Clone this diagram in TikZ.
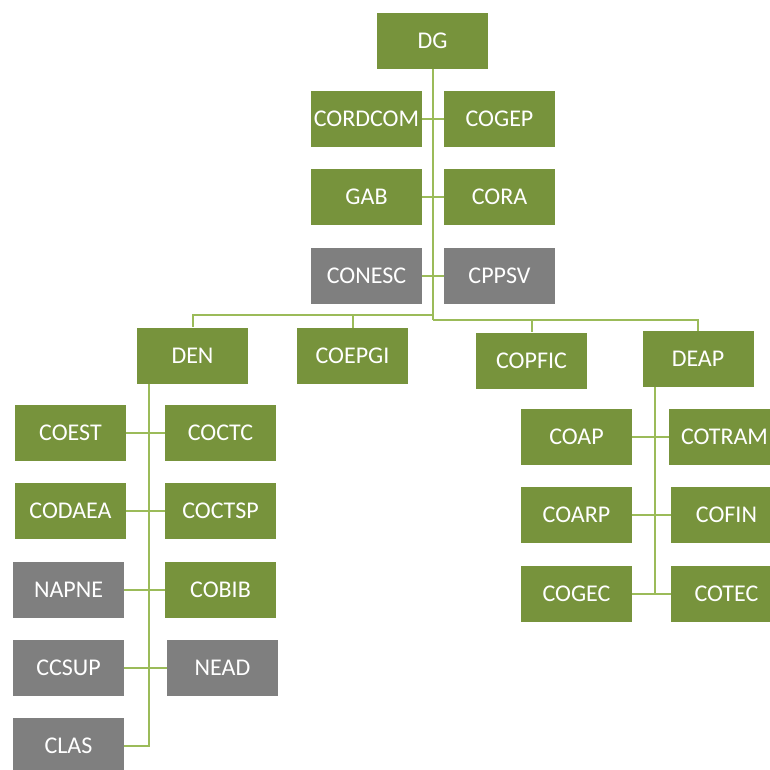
\documentclass[tikz,border=0pt]{standalone}
\usepackage{fontspec}
\setmainfont{Carlito}
\definecolor{boxgreen}{HTML}{77933C}
\definecolor{boxgray}{HTML}{7F7F7F}
\definecolor{linkgreen}{HTML}{9BBB59}
\begin{document}
\begin{tikzpicture}[
                            x=1pt, y=-1pt,
                            unit/.style={rectangle, fill=boxgreen, text=white, inner sep=0pt,
                                minimum width=111pt, minimum height=56pt,
                                font=\fontsize{24}{28}\selectfont},
                            grayunit/.style={unit, fill=boxgray},
                            link/.style={draw=linkgreen, line width=2pt}
                        ]
                        \useasboundingbox (0,0) rectangle (769,770);
                        % Blocks
                        \node [unit] (DG) at (432.5,41) {DG};
                        \node [unit] (CORDCOM) at (366.5,119) {CORDCOM};
                        \node [unit] (COGEP) at (499.5,119) {COGEP};
                        \node [unit] (GAB) at (366.5,197) {GAB};
                        \node [unit] (CORA) at (499.5,197) {CORA};
                        \node [grayunit] (CONESC) at (366.5,276) {CONESC};
                        \node [grayunit] (CPPSV) at (499.5,276) {CPPSV};

                        \node [unit] (DEN) at (192.5,355.5) {DEN};
                        \node [unit] (COEPGI) at (352.5,356) {COEPGI};
                        \node [unit] (COPFIC) at (531.5,360.5) {COPFIC};
                        \node [unit] (DEAP) at (698,359) {DEAP};

                        \node [unit] (COEST) at (70.5,432.5) {COEST};
                        \node [unit] (COCTC) at (220.5,432.5) {COCTC};
                        \node [unit] (CODAEA) at (70.5,511) {CODAEA};
                        \node [unit] (COCTSP) at (220.5,511) {COCTSP};
                        \node [grayunit] (NAPNE) at (68.5,589.5) {NAPNE};
                        \node [unit] (COBIB) at (220.5,589.5) {COBIB};
                        \node [grayunit] (CCSUP) at (68.5,668) {CCSUP};
                        \node [grayunit] (NEAD) at (222.5,668) {NEAD};
                        \node [grayunit] (CLAS) at (68.5,746) {CLAS};

                        \node [unit] (COAP) at (576.5,437) {COAP};
                        \node [unit] (COTRAM) at (724.5,437) {COTRAM};
                        \node [unit] (COARP) at (576.5,515) {COARP};
                        \node [unit] (COFIN) at (726.5,515) {COFIN};
                        \node [unit] (COGEC) at (576.5,593.5) {COGEC};
                        \node [unit] (COTEC) at (726.5,593.5) {COTEC};

                        % Connections
                        \coordinate (rbus) at (433,320);
                        \coordinate (lbus) at (433,315);
                        \coordinate (denend) at (149,746);
                        \coordinate (deapend) at (655,593.5);
                        \draw [link] (DG.south -| rbus) -- (rbus);
                        \draw [link] (CORDCOM) -- (COGEP);
                        \draw [link] (GAB) -- (CORA);
                        \draw [link] (CONESC) -- (CPPSV);
                        \draw [link] (rbus) -| (COPFIC.north);
                        \draw [link] (rbus) -| (DEAP.north);
                        \draw [link] (lbus) -| (COEPGI.north);
                        \draw [link] (lbus) -| (DEN.north);

                        \draw [link] (DEN.south -| denend) |- (CLAS);
                        \draw [link] (COEST) -- (COCTC);
                        \draw [link] (CODAEA) -- (COCTSP);
                        \draw [link] (NAPNE) -- (COBIB);
                        \draw [link] (CCSUP) -- (NEAD);

                        \draw [link] (DEAP.south -| deapend) -- (deapend);
                        \draw [link] (COAP) -- (COTRAM);
                        \draw [link] (COARP) -- (COFIN);
                        \draw [link] (COGEC) -- (COTEC);
                    \end{tikzpicture}
\end{document}
